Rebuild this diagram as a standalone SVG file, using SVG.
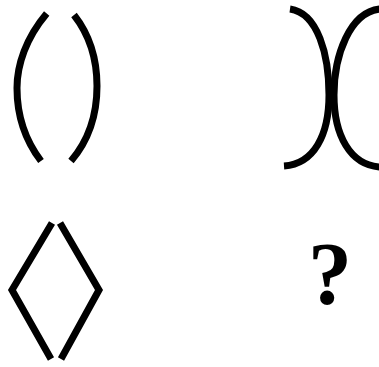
<svg xmlns="http://www.w3.org/2000/svg" width="379" height="367" viewBox="0 0 379 367">
<style>
.s{fill:none;stroke:#000;stroke-width:7;stroke-linecap:butt;stroke-linejoin:miter}
.q{font-family:"Liberation Serif","Times New Roman",serif;font-weight:bold;font-size:88px;fill:#000}
</style>
<rect width="379" height="367" fill="#fff"/>
<g id="fig-parens">
<path class="s" d="M46.7,13.5 C26,38 17,65 17,88 C17,115 25,140 41,161"/>
<path class="s" d="M74,15 C92,38 97,63 97,86 C97,113 89,140 71,161"/>
</g>
<g id="fig-reversed">
<path class="s" d="M290,9 C318,13 329,55 329,95 C329,135 314,164 284,166"/>
<path class="s" d="M380,9 C350,12 334,55 334,95 C334,135 350,165 380,167"/>
</g>
<g id="fig-diamond">
<path class="s" d="M52,223 L12,290 L51,359"/>
<path class="s" d="M60,223 L99,290 L61,359"/>
</g>
<g id="fig-question">
<text class="q" x="330" y="303" text-anchor="middle">?</text>
</g>
</svg>
